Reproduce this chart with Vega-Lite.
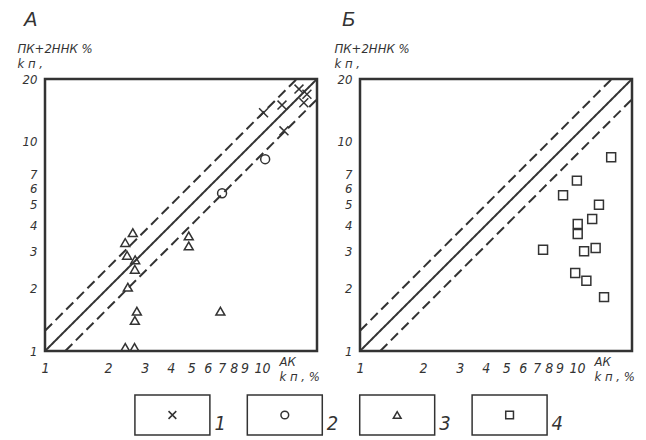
{
  "$schema": "https://vega.github.io/schema/vega-lite/v6.json",
  "autosize": {"type": "pad"},
  "padding": {"left": 15, "top": 8, "right": 0, "bottom": 0},
  "background": "white",
  "config": {
    "font": "'DejaVu Sans Condensed', 'Liberation Sans', sans-serif",
    "view": {"stroke": "#333", "strokeWidth": 2.5},
    "axis": {
      "grid": false, "ticks": false, "domain": false,
      "labelFont": "'DejaVu Sans Condensed', 'Liberation Sans', sans-serif", "labelFontStyle": "italic", "labelFontSize": 14, "labelColor": "#333",
      "titleFont": "'DejaVu Sans Condensed', 'Liberation Sans', sans-serif", "titleFontStyle": "italic", "titleFontWeight": "normal", "titleFontSize": 13, "titleColor": "#333",
      "labelOverlap": false, "labelFlush": false
    },
    "title": {"font": "'Liberation Sans', sans-serif", "fontStyle": "italic", "fontWeight": "normal", "fontSize": 20, "color": "#333", "anchor": "start", "frame": "group"}
  },
  "datasets": {
    "lines": [
      {"kind": "diag", "style": "solid", "x": 1, "y": 1},
      {"kind": "diag", "style": "solid", "x": 20, "y": 20},
      {"kind": "upper", "style": "dashed", "x": 1, "y": 1.25},
      {"kind": "upper", "style": "dashed", "x": 16, "y": 20},
      {"kind": "lower", "style": "dashed", "x": 1.25, "y": 1},
      {"kind": "lower", "style": "dashed", "x": 20, "y": 16}
    ],
    "pointsA": [
      {"series": "1", "x": 11.1, "y": 13.8},
      {"series": "1", "x": 13.6, "y": 15.0},
      {"series": "1", "x": 16.4, "y": 17.9},
      {"series": "1", "x": 17.9, "y": 16.9},
      {"series": "1", "x": 17.3, "y": 15.4},
      {"series": "1", "x": 13.9, "y": 11.3},
      {"series": "2", "x": 11.3, "y": 8.27},
      {"series": "2", "x": 7.03, "y": 5.68},
      {"series": "3", "x": 2.63, "y": 3.68},
      {"series": "3", "x": 2.42, "y": 3.30},
      {"series": "3", "x": 2.47, "y": 2.87},
      {"series": "3", "x": 2.70, "y": 2.73},
      {"series": "3", "x": 2.69, "y": 2.46},
      {"series": "3", "x": 2.49, "y": 2.02},
      {"series": "3", "x": 4.87, "y": 3.55},
      {"series": "3", "x": 4.87, "y": 3.18},
      {"series": "3", "x": 2.75, "y": 1.55},
      {"series": "3", "x": 2.69, "y": 1.40},
      {"series": "3", "x": 6.90, "y": 1.55},
      {"series": "3", "x": 2.42, "y": 1.04},
      {"series": "3", "x": 2.68, "y": 1.04}
    ],
    "pointsB": [
      {"series": "4", "x": 15.9, "y": 8.45},
      {"series": "4", "x": 10.9, "y": 6.53},
      {"series": "4", "x": 9.36, "y": 5.56},
      {"series": "4", "x": 13.9, "y": 5.01},
      {"series": "4", "x": 12.9, "y": 4.28},
      {"series": "4", "x": 11.0, "y": 4.05},
      {"series": "4", "x": 11.0, "y": 3.63},
      {"series": "4", "x": 7.51, "y": 3.05},
      {"series": "4", "x": 11.8, "y": 3.00},
      {"series": "4", "x": 13.4, "y": 3.11},
      {"series": "4", "x": 10.7, "y": 2.36},
      {"series": "4", "x": 12.1, "y": 2.17},
      {"series": "4", "x": 14.7, "y": 1.81}
    ],
    "legend": [
      {"series": "1"}, {"series": "2"}, {"series": "3"}, {"series": "4"}
    ]
  },
  "spacing": 9,
  "vconcat": [
    {
      "bounds": "flush",
      "spacing": 43,
      "hconcat": [
        {
          "title": {"text": "А", "dx": -21, "offset": 12},
          "width": 272, "height": 272,
          "encoding": {
            "x": {"field": "x", "type": "quantitative",
                  "scale": {"type": "log", "domain": [1, 20], "nice": false},
                  "axis": {"values": [1, 2, 3, 4, 5, 6, 7, 8, 9, 10], "labelPadding": 10, "labelBaseline": "top",
                           "labelAlign": {"condition": {"test": "datum.value === 10", "value": "left"}, "value": "center"},
                           "title": ["    АК", "k п , %"], "titleAlign": "left", "titleBaseline": "top", "titleX": 234, "titleY": 4, "titleLineHeight": 15}},
            "y": {"field": "y", "type": "quantitative",
                  "scale": {"type": "log", "domain": [1, 20], "nice": false},
                  "axis": {"values": [1, 2, 3, 4, 5, 6, 7, 10, 20], "labelPadding": 8, "labelFontSize": 13,
                           "title": ["    ПК+2ННК %", "k п ,"], "titleAngle": 0, "titleAlign": "left", "titleBaseline": "top", "titleX": -28, "titleY": -37, "titleLineHeight": 15}}
          },
          "layer": [
            {
              "data": {"name": "lines"},
              "mark": {"type": "line", "color": "#333", "strokeWidth": 2},
              "encoding": {
                "detail": {"field": "kind", "type": "nominal"},
                "strokeDash": {"field": "style", "type": "nominal", "scale": {"domain": ["solid", "dashed"], "range": [[1, 0], [10, 5]]}, "legend": null}
              }
            },
            {
              "data": {"name": "pointsA"},
              "mark": {"type": "point", "filled": false, "color": "#333", "strokeWidth": 1.5, "size": 80, "opacity": 1},
              "encoding": {
                "shape": {"field": "series", "type": "nominal",
                          "scale": {"domain": ["1", "2", "3", "4"], "range": ["M-1,-1L1,1M-1,1L1,-1", "circle", "triangle-up", "square"]},
                          "legend": null}
              }
            }
          ]
        },
        {
          "title": {"text": "Б", "dx": -18, "offset": 12},
          "width": 272, "height": 272,
          "encoding": {
            "x": {"field": "x", "type": "quantitative",
                  "scale": {"type": "log", "domain": [1, 20], "nice": false},
                  "axis": {"values": [1, 2, 3, 4, 5, 6, 7, 8, 9, 10], "labelPadding": 10, "labelBaseline": "top",
                           "labelAlign": {"condition": {"test": "datum.value === 10", "value": "left"}, "value": "center"},
                           "title": ["    АК", "k п , %"], "titleAlign": "left", "titleBaseline": "top", "titleX": 234, "titleY": 4, "titleLineHeight": 15}},
            "y": {"field": "y", "type": "quantitative",
                  "scale": {"type": "log", "domain": [1, 20], "nice": false},
                  "axis": {"values": [1, 2, 3, 4, 5, 6, 7, 10, 20], "labelPadding": 8, "labelFontSize": 13,
                           "title": ["    ПК+2ННК %", "k п ,"], "titleAngle": 0, "titleAlign": "left", "titleBaseline": "top", "titleX": -26, "titleY": -37, "titleLineHeight": 15}}
          },
          "layer": [
            {
              "data": {"name": "lines"},
              "mark": {"type": "line", "color": "#333", "strokeWidth": 2},
              "encoding": {
                "detail": {"field": "kind", "type": "nominal"},
                "strokeDash": {"field": "style", "type": "nominal", "scale": {"domain": ["solid", "dashed"], "range": [[1, 0], [10, 5]]}, "legend": null}
              }
            },
            {
              "data": {"name": "pointsB"},
              "mark": {"type": "point", "filled": false, "color": "#333", "strokeWidth": 1.5, "size": 80, "opacity": 1},
              "encoding": {
                "shape": {"field": "series", "type": "nominal",
                          "scale": {"domain": ["1", "2", "3", "4"], "range": ["M-1,-1L1,1M-1,1L1,-1", "circle", "triangle-up", "square"]},
                          "legend": null}
              }
            }
          ]
        }
      ]
    },
    {
      "width": 592, "height": 40,
      "view": {"stroke": null},
      "data": {"name": "legend"},
      "encoding": {
        "x": {"field": "series", "type": "nominal", "scale": {"type": "band", "paddingInner": 0.333, "paddingOuter": 0.8}, "axis": null}
      },
      "layer": [
        {"mark": {"type": "rect", "fill": "white", "stroke": "#333", "strokeWidth": 1.5}},
        {
          "mark": {"type": "point", "filled": false, "color": "#333", "strokeWidth": 1.5, "size": 60, "opacity": 1},
          "encoding": {
            "shape": {"field": "series", "type": "nominal",
                      "scale": {"domain": ["1", "2", "3", "4"], "range": ["M-1,-1L1,1M-1,1L1,-1", "circle", "triangle-up", "square"]},
                      "legend": null}
          }
        },
        {
          "mark": {"type": "text", "align": "left", "baseline": "bottom", "dx": 42, "dy": 19, "fontSize": 20, "fontStyle": "italic", "font": "'DejaVu Sans Condensed', 'Liberation Sans', sans-serif", "color": "#333"},
          "encoding": {"text": {"field": "series", "type": "nominal"}}
        }
      ]
    }
  ]
}
